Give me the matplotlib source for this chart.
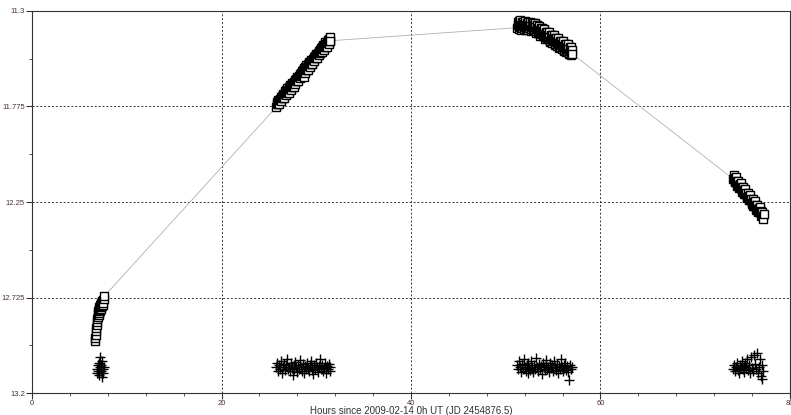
# Light curve: target (squares) and comparison (crosses) in magnitudes

import matplotlib.pyplot as plt
from matplotlib.ticker import MultipleLocator, FixedLocator

# target: hours since 2009-02-14 0h UT, one list per night
hours_a = [6.62, 6.66, 6.70, 6.74, 6.78, 6.82, 6.86, 6.90, 6.93, 6.96,
           6.99, 7.02, 7.05, 7.08, 7.11, 7.14, 7.17, 7.20, 7.23, 7.26,
           7.29, 7.32, 7.35, 7.38, 7.41, 7.44, 7.47, 7.50, 7.55, 7.60]
target_a = [12.94, 12.925, 12.91, 12.89, 12.875, 12.86, 12.845, 12.83, 12.80, 12.82,
            12.79, 12.81, 12.78, 12.80, 12.77, 12.79, 12.76, 12.785, 12.755, 12.78,
            12.75, 12.77, 12.745, 12.765, 12.74, 12.76, 12.735, 12.75, 12.73, 12.72]

hours_b = [25.80, 25.85, 25.90, 25.95, 26.00, 26.05, 26.10, 26.15, 26.20, 26.25,
           26.30, 26.35, 26.40, 26.45, 26.50, 26.55, 26.60, 26.65, 26.70, 26.75,
           26.80, 26.85, 26.90, 26.95, 27.00, 27.05, 27.10, 27.15, 27.20, 27.25,
           27.30, 27.35, 27.40, 27.45, 27.50, 27.55, 27.60, 27.65, 27.70, 27.75,
           27.80, 27.85, 27.90, 27.95, 28.00, 28.05, 28.10, 28.15, 28.20, 28.25,
           28.30, 28.35, 28.40, 28.45, 28.50, 28.55, 28.60, 28.65, 28.70, 28.75,
           28.80, 28.85, 28.90, 28.95, 29.00, 29.05, 29.10, 29.15, 29.20, 29.25,
           29.30, 29.35, 29.40, 29.45, 29.50, 29.55, 29.60, 29.65, 29.70, 29.75,
           29.80, 29.85, 29.90, 29.95, 30.00, 30.05, 30.10, 30.15, 30.20, 30.25,
           30.30, 30.35, 30.40, 30.45, 30.50, 30.55, 30.60, 30.65, 30.70, 30.75,
           30.80, 30.85, 30.90, 30.95, 31.00, 31.05, 31.10, 31.15, 31.20, 31.25,
           31.30, 31.35, 31.40, 31.45, 31.50]
target_b = [11.777, 11.752, 11.763, 11.741, 11.762, 11.748, 11.763, 11.737, 11.743, 11.727,
            11.749, 11.724, 11.735, 11.713, 11.733, 11.719, 11.734, 11.709, 11.715, 11.699,
            11.720, 11.695, 11.706, 11.684, 11.705, 11.691, 11.706, 11.680, 11.686, 11.670,
            11.692, 11.667, 11.678, 11.656, 11.676, 11.662, 11.677, 11.652, 11.658, 11.642,
            11.663, 11.638, 11.649, 11.627, 11.648, 11.634, 11.649, 11.623, 11.629, 11.613,
            11.635, 11.610, 11.621, 11.599, 11.619, 11.605, 11.620, 11.595, 11.630, 11.585,
            11.606, 11.581, 11.592, 11.570, 11.591, 11.577, 11.592, 11.566, 11.572, 11.556,
            11.578, 11.553, 11.564, 11.542, 11.562, 11.548, 11.563, 11.538, 11.544, 11.528,
            11.549, 11.524, 11.535, 11.513, 11.534, 11.520, 11.535, 11.509, 11.515, 11.499,
            11.521, 11.496, 11.507, 11.485, 11.505, 11.491, 11.506, 11.481, 11.487, 11.471,
            11.492, 11.467, 11.478, 11.456, 11.477, 11.463, 11.478, 11.452, 11.458, 11.442,
            11.464, 11.439, 11.450, 11.428, 11.448]

hours_c = [51.20, 51.25, 51.30, 51.35, 51.40, 51.45, 51.50, 51.55, 51.60, 51.65,
           51.70, 51.75, 51.80, 51.85, 51.90, 51.95, 52.00, 52.05, 52.10, 52.15,
           52.20, 52.25, 52.30, 52.35, 52.40, 52.45, 52.50, 52.55, 52.60, 52.65,
           52.70, 52.75, 52.80, 52.85, 52.90, 52.95, 53.00, 53.05, 53.10, 53.15,
           53.20, 53.25, 53.30, 53.35, 53.40, 53.45, 53.50, 53.55, 53.60, 53.65,
           53.70, 53.75, 53.80, 53.85, 53.90, 53.95, 54.00, 54.05, 54.10, 54.15,
           54.20, 54.25, 54.30, 54.35, 54.40, 54.45, 54.50, 54.55, 54.60, 54.65,
           54.70, 54.75, 54.80, 54.85, 54.90, 54.95, 55.00, 55.05, 55.10, 55.15,
           55.20, 55.25, 55.30, 55.35, 55.40, 55.45, 55.50, 55.55, 55.60, 55.65,
           55.70, 55.75, 55.80, 55.85, 55.90, 55.95, 56.00, 56.05, 56.10, 56.15,
           56.20, 56.25, 56.30, 56.35, 56.40, 56.45, 56.50, 56.55, 56.60, 56.65,
           56.70, 56.75, 56.80, 56.85, 56.90, 56.95, 57.00]
target_c = [11.383, 11.353, 11.372, 11.350, 11.388, 11.363, 11.379, 11.347, 11.369, 11.394,
            11.386, 11.356, 11.375, 11.353, 11.391, 11.366, 11.382, 11.350, 11.372, 11.397,
            11.389, 11.359, 11.378, 11.356, 11.394, 11.369, 11.385, 11.353, 11.375, 11.400,
            11.392, 11.362, 11.381, 11.359, 11.397, 11.372, 11.388, 11.358, 11.381, 11.407,
            11.400, 11.372, 11.391, 11.371, 11.410, 11.386, 11.404, 11.373, 11.397, 11.422,
            11.416, 11.387, 11.407, 11.386, 11.426, 11.401, 11.419, 11.389, 11.412, 11.438,
            11.431, 11.403, 11.422, 11.402, 11.441, 11.417, 11.435, 11.404, 11.428, 11.453,
            11.447, 11.418, 11.438, 11.417, 11.457, 11.432, 11.450, 11.420, 11.443, 11.469,
            11.462, 11.434, 11.453, 11.433, 11.472, 11.448, 11.466, 11.435, 11.459, 11.484,
            11.478, 11.449, 11.469, 11.448, 11.488, 11.463, 11.481, 11.451, 11.474, 11.500,
            11.493, 11.465, 11.484, 11.464, 11.503, 11.479, 11.497, 11.466, 11.490, 11.515,
            11.509, 11.480, 11.500, 11.479, 11.519, 11.494, 11.512]

hours_d = [74.00, 74.05, 74.10, 74.15, 74.20, 74.25, 74.30, 74.35, 74.40, 74.45,
           74.50, 74.55, 74.60, 74.65, 74.70, 74.75, 74.80, 74.85, 74.90, 74.95,
           75.00, 75.05, 75.10, 75.15, 75.20, 75.25, 75.30, 75.35, 75.40, 75.45,
           75.50, 75.55, 75.60, 75.65, 75.70, 75.75, 75.80, 75.85, 75.90, 75.95,
           76.00, 76.05, 76.10, 76.15, 76.20, 76.25, 76.30, 76.35, 76.40, 76.45,
           76.50, 76.55, 76.60, 76.65, 76.70, 76.75, 76.80, 76.85, 76.90, 76.95,
           77.00, 77.10, 77.15, 77.20, 77.25]
target_d = [12.135, 12.114, 12.135, 12.152, 12.129, 12.152, 12.125, 12.152, 12.145, 12.168,
            12.165, 12.144, 12.165, 12.182, 12.159, 12.182, 12.155, 12.182, 12.175, 12.198,
            12.195, 12.174, 12.195, 12.212, 12.189, 12.212, 12.185, 12.212, 12.205, 12.228,
            12.225, 12.204, 12.225, 12.242, 12.219, 12.242, 12.215, 12.242, 12.235, 12.258,
            12.255, 12.234, 12.255, 12.272, 12.249, 12.272, 12.245, 12.272, 12.265, 12.288,
            12.285, 12.264, 12.285, 12.302, 12.279, 12.302, 12.275, 12.302, 12.295, 12.318,
            12.315, 12.300, 12.320, 12.335, 12.310]

# comparison star
comp_hours_a = [6.85, 6.90, 6.95, 7.00, 7.05, 7.10, 7.15, 7.20, 7.25, 7.30,
                7.35, 7.40, 7.45, 7.50, 7.55]
comp_a = [13.08, 13.10, 13.06, 13.09, 13.05, 13.11, 13.07, 13.02, 13.09, 13.06,
          13.12, 13.04, 13.08, 13.10, 13.07]

comp_hours_b = [25.8, 25.9, 26.0, 26.1, 26.2, 26.3, 26.4, 26.5, 26.6, 26.7,
                26.8, 26.9, 27.0, 27.1, 27.2, 27.3, 27.4, 27.5, 27.6, 27.7,
                27.8, 27.9, 28.0, 28.1, 28.2, 28.3, 28.4, 28.5, 28.6, 28.7,
                28.8, 28.9, 29.0, 29.1, 29.2, 29.3, 29.4, 29.5, 29.6, 29.7,
                29.8, 29.9, 30.0, 30.1, 30.2, 30.3, 30.4, 30.5, 30.6, 30.7,
                30.8, 30.9, 31.0, 31.1, 31.2, 31.3, 31.4, 31.5]
comp_b = [13.07, 13.05, 13.09, 13.06, 13.08, 13.04, 13.10, 13.07, 13.055, 13.085,
          13.06, 13.03, 13.08, 13.07, 13.09, 13.05, 13.075, 13.11, 13.06, 13.08,
          13.045, 13.07, 13.095, 13.06, 13.08, 13.035, 13.07, 13.09, 13.055, 13.10,
          13.065, 13.08, 13.05, 13.075, 13.09, 13.06, 13.04, 13.085, 13.07, 13.105,
          13.06, 13.08, 13.05, 13.07, 13.095, 13.065, 13.03, 13.08, 13.06, 13.09,
          13.075, 13.05, 13.10, 13.065, 13.08, 13.055, 13.09, 13.07]

comp_hours_c = [51.2, 51.3, 51.4, 51.5, 51.6, 51.7, 51.8, 51.9, 52.0, 52.1,
                52.2, 52.3, 52.4, 52.5, 52.6, 52.7, 52.8, 52.9, 53.0, 53.1,
                53.2, 53.3, 53.4, 53.5, 53.6, 53.7, 53.8, 53.9, 54.0, 54.1,
                54.2, 54.3, 54.4, 54.5, 54.6, 54.7, 54.8, 54.9, 55.0, 55.1,
                55.2, 55.3, 55.4, 55.5, 55.6, 55.7, 55.8, 55.9, 56.0, 56.1,
                56.2, 56.3, 56.4, 56.5, 56.6, 56.7, 56.8, 56.9, 57.0]
comp_c = [13.06, 13.08, 13.04, 13.07, 13.095, 13.055, 13.08, 13.03, 13.07, 13.09,
          13.06, 13.10, 13.05, 13.075, 13.085, 13.04, 13.07, 13.095, 13.06, 13.08,
          13.025, 13.07, 13.09, 13.055, 13.08, 13.065, 13.105, 13.05, 13.07, 13.085,
          13.06, 13.035, 13.08, 13.07, 13.095, 13.05, 13.075, 13.06, 13.09, 13.04,
          13.07, 13.085, 13.055, 13.10, 13.065, 13.08, 13.03, 13.07, 13.09, 13.06,
          13.075, 13.05, 13.085, 13.065, 13.095, 13.135, 13.06, 13.08, 13.07]

comp_hours_d = [74.0, 74.1, 74.2, 74.3, 74.4, 74.5, 74.6, 74.7, 74.8, 74.9,
                75.0, 75.1, 75.2, 75.3, 75.4, 75.5, 75.6, 75.7, 75.8, 75.9,
                76.0, 76.1, 76.2, 76.3, 76.4, 76.5, 76.6, 76.7, 76.8, 76.9,
                77.0, 77.1, 77.2]
comp_d = [13.08, 13.06, 13.09, 13.07, 13.05, 13.085, 13.10, 13.06, 13.075, 13.04,
          13.08, 13.065, 13.095, 13.05, 13.07, 13.03, 13.085, 13.06, 13.10, 13.02,
          13.075, 13.09, 13.01, 13.055, 13.08, 13.00, 13.10, 13.07, 13.03, 13.115,
          13.06, 13.13, 13.09]

x_ticks = [0, 20, 40, 60, 80]
y_ticks = [11.3, 11.775, 12.25, 12.725, 13.2]
y_labels = ['11.3', '11.775', '12.25', '12.725', '13.2']

hours = hours_a + hours_b + hours_c + hours_d
target = target_a + target_b + target_c + target_d
comp_hours = comp_hours_a + comp_hours_b + comp_hours_c + comp_hours_d
comp = comp_a + comp_b + comp_c + comp_d

plt.rcParams['font.family'] = ['Liberation Sans', 'DejaVu Sans']

fig, ax = plt.subplots(figsize=(7.91, 4.15), dpi=100)
fig.subplots_adjust(left=0.0405, right=0.9987, bottom=0.053, top=0.9735)

ax.plot(hours, target, color='#b0b0b0', linewidth=0.6, zorder=2)
ax.plot(hours, target, linestyle='none', marker='s', markersize=5.2,
        markerfacecolor='white', markeredgecolor='black', markeredgewidth=1.0, zorder=3)
ax.plot(comp_hours, comp, linestyle='none', marker='+', markersize=6.5,
        color='black', markeredgewidth=1.0, zorder=3)

ax.set_xlim(0, 80)
ax.set_ylim(13.2, 11.3)
ax.set_xticks(x_ticks)
ax.set_yticks(y_ticks)
ax.set_yticklabels(y_labels)
ax.xaxis.set_minor_locator(MultipleLocator(4))
ax.yaxis.set_minor_locator(FixedLocator([11.5375, 12.0125, 12.4875, 12.9625]))
ax.tick_params(which='major', length=4, width=0.8, labelsize=5.5,
               labelcolor='#4a3030', color='#333333', pad=1)
ax.tick_params(which='minor', length=2, width=0.6, color='#333333')

ax.grid(True, which='major', color='#333333', linestyle=(0, (2, 2)), linewidth=0.7)
for s in ax.spines.values():
    s.set_color('#333333')
    s.set_linewidth(0.8)

ax.set_xlabel('Hours since 2009-02-14 0h UT (JD 2454876.5)', fontsize=7,
              color='#333333', labelpad=-1)

fig.savefig('out.png')
